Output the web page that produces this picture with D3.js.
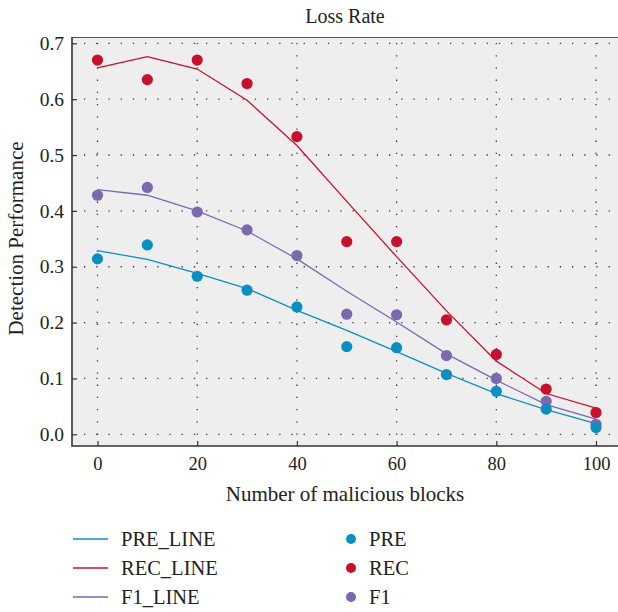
<!DOCTYPE html>
<html>
<head>
<meta charset="utf-8">
<script src="https://cdn.jsdelivr.net/npm/d3@7"></script>
<style>
  html, body { margin: 0; padding: 0; background: #fff; }
  svg { display: block; }
  svg text { font-family: "Liberation Serif", "Times New Roman", Times, "DejaVu Serif", serif; }
</style>
</head>
<body>
<div id="chart"></div>
<script>
// Number of malicious blocks (x positions of the measurements and fitted curves)
const blocks = [0, 10, 20, 30, 40, 50, 60, 70, 80, 90, 100];

// Measured detection performance
const preValues = [0.314, 0.339, 0.283, 0.258, 0.228, 0.157, 0.155, 0.107, 0.077, 0.045, 0.012];
const recValues = [0.670, 0.635, 0.670, 0.628, 0.533, 0.345, 0.345, 0.205, 0.143, 0.081, 0.039];
const f1Values  = [0.428, 0.442, 0.398, 0.366, 0.320, 0.215, 0.214, 0.141, 0.100, 0.059, 0.018];

// Fitted curves
const preLine = [0.329, 0.313, 0.288, 0.261, 0.222, 0.186, 0.148, 0.109, 0.073, 0.044, 0.019];
const recLine = [0.656, 0.676, 0.654, 0.598, 0.517, 0.417, 0.318, 0.221, 0.131, 0.073, 0.047];
const f1Line  = [0.438, 0.428, 0.400, 0.364, 0.314, 0.256, 0.201, 0.144, 0.097, 0.053, 0.027];

const xTicks = [0, 20, 40, 60, 80, 100];
const yTicks = [0.0, 0.1, 0.2, 0.3, 0.4, 0.5, 0.6, 0.7];

const seriesNames = ["PRE", "REC", "F1"];
const colors = { PRE: "#0b8fc3", REC: "#c8102e", F1: "#7b68ae" };

const FONT = '"Liberation Serif", "Times New Roman", Times, "DejaVu Serif", serif';
const W = 618, H = 612;
const plot = { left: 72, top: 37, right: 618, bottom: 446 };

const svg = d3.select("#chart").append("svg")
  .attr("width", W).attr("height", H)
  .attr("font-family", FONT);

const x = d3.scaleLinear().domain([-5.115, 104.41]).range([plot.left, plot.right]);
const y = d3.scaleLinear().domain([-0.02095, 0.7113]).range([plot.bottom, plot.top]);

// Panel background
svg.append("rect")
  .attr("x", plot.left).attr("y", plot.top)
  .attr("width", plot.right - plot.left).attr("height", plot.bottom - plot.top)
  .attr("fill", "#eeeeee");

// Dotted grid
const grid = svg.append("g").attr("stroke", "#3a3a3a").attr("stroke-width", 1.3)
  .attr("stroke-dasharray", "1.3 10.9");
grid.selectAll("line.h").data(yTicks).join("line")
  .attr("class", "h")
  .attr("x1", plot.left + 12).attr("x2", plot.right)
  .attr("y1", d => y(d)).attr("y2", d => y(d));
grid.selectAll("line.v").data(xTicks).join("line")
  .attr("class", "v")
  .attr("x1", d => x(d)).attr("x2", d => x(d))
  .attr("y1", plot.top + 6).attr("y2", plot.bottom);

// Top frame line
svg.append("line")
  .attr("x1", plot.left).attr("x2", plot.right)
  .attr("y1", plot.top + 0.5).attr("y2", plot.top + 0.5)
  .attr("stroke", "#555").attr("stroke-width", 1.2);

// Axes with inward ticks
const xAxis = d3.axisBottom(x).tickValues(xTicks).tickSizeInner(-5).tickSizeOuter(0).tickPadding(11)
  .tickFormat(d3.format("d"));
const gx = svg.append("g").attr("transform", `translate(0,${plot.bottom})`).call(xAxis)
  .attr("font-family", FONT).attr("font-size", 18.5);
gx.select(".domain").remove();
gx.selectAll(".tick line").attr("stroke", "#333").attr("stroke-width", 1.2);
gx.selectAll(".tick text").attr("fill", "#222");

const yAxis = d3.axisLeft(y).tickValues(yTicks).tickSizeInner(-5).tickSizeOuter(0).tickPadding(8)
  .tickFormat(d3.format(".1f"));
const gy = svg.append("g").attr("transform", `translate(${plot.left},0)`).call(yAxis)
  .attr("font-family", FONT).attr("font-size", 19.5);
gy.select(".domain").remove();
gy.selectAll(".tick line").attr("stroke", "#333").attr("stroke-width", 1.2);
gy.selectAll(".tick text").attr("fill", "#222");

svg.append("path")
  .attr("d", `M${plot.left},${plot.top} V${plot.bottom} H${plot.right}`)
  .attr("fill", "none").attr("stroke", "#333").attr("stroke-width", 1.6);

// Fitted lines
const lineGen = d3.line().x((d, i) => x(blocks[i])).y(d => y(d));
const lineData = { PRE: preLine, REC: recLine, F1: f1Line };
const pointData = { PRE: preValues, REC: recValues, F1: f1Values };

seriesNames.forEach(name => {
  svg.append("path")
    .datum(lineData[name])
    .attr("d", lineGen)
    .attr("fill", "none")
    .attr("stroke", colors[name])
    .attr("stroke-width", 1.3);
});

// Measured points
["REC", "F1", "PRE"].forEach(name => {
  svg.append("g").selectAll("circle")
    .data(pointData[name])
    .join("circle")
    .attr("cx", (d, i) => x(blocks[i]))
    .attr("cy", d => y(d))
    .attr("r", 5.6)
    .attr("fill", colors[name]);
});

// Title
svg.append("text")
  .attr("x", (plot.left + plot.right) / 2).attr("y", 23)
  .attr("text-anchor", "middle")
  .attr("font-size", 20).attr("fill", "#222")
  .text("Loss Rate");

// Axis titles
svg.append("text")
  .attr("x", (plot.left + plot.right) / 2).attr("y", 501)
  .attr("text-anchor", "middle")
  .attr("font-size", 21).attr("fill", "#222")
  .text("Number of malicious blocks");

svg.append("text")
  .attr("transform", `translate(23,${(plot.top + plot.bottom) / 2 - 3}) rotate(-90)`)
  .attr("text-anchor", "middle")
  .attr("font-size", 21).attr("fill", "#222")
  .text("Detection Performance");

// Legend
const legendRows = [0, 1, 2];
const legend = svg.append("g");
legendRows.forEach(i => {
  const name = seriesNames[i];
  const cy = 539 + i * 29;
  legend.append("line")
    .attr("x1", 73).attr("x2", 108).attr("y1", cy).attr("y2", cy)
    .attr("stroke", colors[name]).attr("stroke-width", 1.3);
  legend.append("text")
    .attr("x", 121).attr("y", cy + 6.5)
    .attr("font-size", 20.5).attr("fill", "#222")
    .text(name + "_LINE");
  legend.append("circle")
    .attr("cx", 351).attr("cy", cy).attr("r", 5)
    .attr("fill", colors[name]);
  legend.append("text")
    .attr("x", 369).attr("y", cy + 6.5)
    .attr("font-size", 20.5).attr("fill", "#222")
    .text(name);
});
</script>
</body>
</html>
